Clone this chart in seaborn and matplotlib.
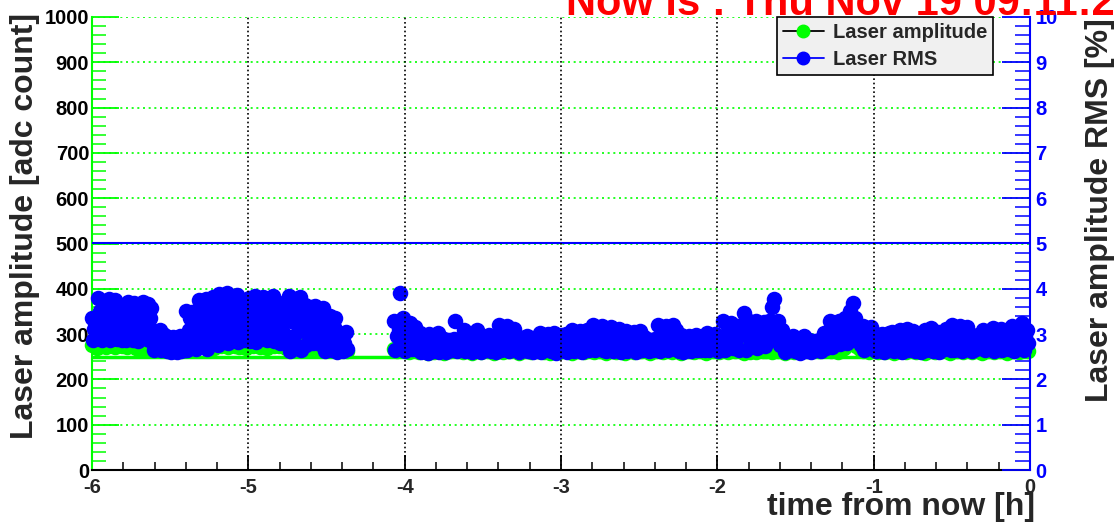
import numpy as np
import pandas as pd
import seaborn as sns
import matplotlib.pyplot as plt
from matplotlib.lines import Line2D
from matplotlib.ticker import MultipleLocator

# two monitoring runs, hours before "now"
run_a = (-6.00, -4.37)
run_b = (-4.07, -0.01)

# laser RMS [%], run a
rms_a = [3.35, 2.88, 3.12, 3.30, 2.92,
         3.80, 3.08, 3.52, 2.88, 3.30, 3.72, 2.95, 3.45, 3.18, 3.78, 2.87, 3.60, 3.25, 3.02, 3.76,
         3.42, 2.90, 3.18, 3.38, 3.02, 2.88,
         3.62, 3.10, 2.86, 3.40, 3.70, 2.95, 3.25, 3.55, 2.88, 3.68, 3.15, 3.45,
         2.85, 3.60, 3.30, 3.05, 3.70, 2.92, 3.48, 3.20, 3.66, 2.87, 3.35, 3.58,
         3.10, 2.66, 2.88, 3.04, 2.72, 2.95, 3.08, 2.65, 2.82, 3.00, 2.70,
         2.96, 2.62, 2.80, 2.92, 2.60, 2.75, 2.94, 2.66, 2.85, 2.60, 2.90, 2.70, 2.96, 2.62, 2.82, 2.92, 2.64,
         3.50, 2.66, 3.10, 3.35, 2.80, 3.48, 2.95, 3.22, 2.68, 3.40, 3.00,
         3.75, 2.82, 3.30, 3.55, 3.05, 3.78, 2.68, 3.45, 3.15, 3.66, 2.90, 3.82, 3.35, 3.00,
         3.60, 2.75, 3.88, 3.20, 3.50, 2.85, 3.70, 3.10, 3.40, 3.90, 2.80, 3.58, 3.25, 3.80,
         2.95, 3.48, 3.12, 3.86, 2.82, 3.62, 3.30, 3.00, 3.75, 3.42, 2.88, 3.68, 3.18,
         3.80, 2.85, 3.35, 3.62, 3.08, 3.84, 2.82, 3.50, 3.20, 3.72, 2.95, 3.40, 3.82,
         3.10, 3.58, 2.88, 3.30, 3.76, 3.00, 3.48, 3.84, 2.84, 3.25, 3.66, 3.05,
         3.68, 2.80, 3.25, 3.50, 3.00, 3.62, 2.88, 3.40,
         3.84, 2.62, 3.30, 3.60, 2.95, 3.78, 2.70, 3.45, 3.12, 3.82, 2.66, 3.55, 3.20,
         3.64, 2.76, 3.20, 3.45, 2.95, 3.60, 3.08, 2.80, 3.35, 3.62, 2.90, 3.50, 3.15, 2.78, 3.40, 3.58,
         3.45, 2.62, 3.00, 3.28, 2.78, 3.40, 2.90, 2.65, 3.15, 3.35,
         3.07, 2.60, 2.85, 3.00, 2.70, 2.95, 2.62, 2.80, 3.05, 2.68]

# laser RMS [%], run b
rms_b = [3.30, 2.64, 2.95, 3.12, 3.90, 2.75, 3.35, 2.62, 3.05, 2.85, 3.25, 2.68, 2.95, 3.15, 2.78, 2.64,
         3.02, 2.60, 2.80, 2.92, 2.70, 2.58, 3.00, 2.85, 2.62, 2.95, 2.74, 3.02, 2.60, 2.88, 2.68,
         2.90, 2.60, 2.76, 2.86, 2.64, 2.72, 2.90, 3.28, 2.62, 2.82, 2.68, 2.88,
         3.08, 2.62, 2.86, 2.72, 3.00, 2.60, 2.94, 2.78, 3.08, 2.66,
         2.96, 2.60, 2.78, 2.90, 2.66, 2.84, 2.98, 2.62, 2.74, 2.92, 2.60, 2.86,
         3.20, 2.64, 2.90, 3.05, 2.75, 3.18, 2.62, 2.98, 2.82, 3.12, 2.68,
         2.95, 2.60, 2.78, 2.90, 2.66, 2.84, 2.96, 2.62, 2.74, 2.92, 2.60, 2.86, 2.70, 2.94,
         3.02, 2.60, 2.82, 2.94, 2.68, 3.00, 2.76, 2.62, 2.90, 3.02,
         2.58, 2.84, 2.72, 2.98, 2.64, 2.88, 3.00, 2.60, 2.80, 2.94,
         3.08, 2.62, 2.86, 3.00, 2.72, 3.06, 2.60, 2.92, 2.78, 3.08, 2.66, 2.96, 2.82,
         3.20, 2.64, 2.92, 3.06, 2.76, 3.18, 2.66,
         2.86, 2.62, 2.76, 2.84,
         3.15, 2.62, 2.90, 3.02, 2.74, 3.12, 2.60, 2.96, 2.82,
         3.06, 2.62, 2.84, 2.96, 2.70, 3.05, 2.60, 2.90, 2.76, 3.06, 2.64, 2.94, 2.80,
         2.90, 2.62, 2.76, 2.86, 2.66, 2.90, 2.72,
         3.20, 2.62, 2.92, 3.06, 2.74, 3.18, 2.64, 2.98, 2.82, 3.20, 2.68, 3.08, 2.88, 2.62,
         2.98, 2.60, 2.80, 2.92, 2.68, 2.96, 2.62, 2.86, 2.74, 2.98, 2.64,
         2.86, 2.64, 2.76, 2.84, 2.66,
         3.02, 2.66, 2.84, 2.96, 2.72, 3.00,
         2.90, 2.62, 2.76, 2.88,
         3.28, 2.64, 2.95, 3.15, 2.78, 3.25, 2.70, 3.05, 2.88, 3.18, 2.66, 3.00, 3.15,
         3.46, 2.66, 3.10, 3.28, 2.82, 2.96, 3.20,
         3.28, 2.70, 3.00, 3.15, 2.82, 3.26, 2.74, 3.05,
         3.30, 2.90, 3.60, 3.78, 3.15, 2.98, 3.30, 2.76, 3.10,
         2.96, 2.60, 2.80, 2.92, 2.66, 2.86, 2.96, 2.62, 2.74, 2.90, 2.58, 2.84, 2.70, 2.95, 2.62, 2.88,
         2.86, 2.60, 2.74, 2.84, 2.64, 2.80, 2.86, 2.62, 2.72,
         3.02, 2.70, 2.88, 2.96,
         3.30, 2.72, 3.00, 3.15, 2.85, 3.28, 2.78, 3.08, 2.92,
         3.35, 2.80, 3.10, 3.50, 2.95, 3.68, 3.35, 3.20, 2.85, 3.05, 2.75,
         3.18, 2.64, 2.90, 3.05, 2.76, 3.15, 2.68,
         3.02, 2.62, 2.82, 2.94, 2.70, 3.00, 2.60, 2.88, 2.76, 3.02, 2.64,
         3.05, 2.62, 2.84, 2.96, 2.70, 3.10, 2.60, 2.90, 2.78, 3.12, 2.64, 2.98,
         2.82, 3.06, 2.62, 2.88, 2.72, 3.00, 2.60, 2.84, 3.08, 2.66, 2.94, 2.78,
         3.14, 2.62, 2.90, 2.74, 3.04, 2.60, 2.86, 2.98, 2.68, 3.12, 2.80, 2.92, 2.64,
         3.20, 2.64, 2.92, 3.06, 2.76, 3.18, 2.62, 2.98, 2.84, 3.15, 2.70,
         3.00, 2.62, 2.80, 2.92, 2.68, 2.98, 2.74, 2.86,
         3.10, 2.64, 2.86, 2.98, 2.72, 3.08,
         3.13, 2.62, 2.88, 3.02, 2.72, 3.12, 2.64, 2.94, 2.80, 3.10, 2.68, 2.96,
         3.18, 2.62, 2.92, 3.06, 2.76, 3.16,
         3.24, 2.66, 2.95, 3.10, 2.80]

# laser amplitude [adc count]
amp_a = [276, 283, 270, 288, 274, 280, 272, 286, 277, 282,
         271, 284, 278, 274, 287, 272, 281, 275, 289, 270,
         268, 274, 266, 272, 269, 264, 270, 266, 273, 268,
         265, 271, 267, 274, 268, 263, 270, 266, 272, 269,
         274, 280, 270, 277, 283, 271, 279, 274, 286, 272,
         278, 282, 270, 276, 284, 273, 279, 288, 272, 277,
         281, 274, 285, 271, 278, 283, 270, 276, 282, 273,
         279, 286, 272, 277, 284, 270, 278, 282, 274, 280,
         273, 281, 276, 270, 284, 277, 272, 279, 275, 282,
         271, 278, 274, 268, 280, 273, 269, 277, 266, 272,
         268, 264, 270, 266, 272, 263, 269, 265, 268, 262]

amp_b = [268, 262, 274, 265, 270, 260, 272, 266, 261, 269, 264, 259,
         266, 260, 271, 263, 258, 268, 262, 275, 264, 270, 261, 267,
         263, 259, 269, 265, 260, 272, 262, 266, 258, 270, 264, 261,
         268, 262, 273, 265, 259, 267, 263, 270, 260, 265, 262, 268,
         261, 266, 259, 271, 264, 260, 268, 262, 265, 259, 270, 263,
         266, 260, 272, 264, 261, 268, 262, 266, 259, 270, 263, 261,
         267, 262, 258, 269, 264, 260, 266, 262, 271, 263, 259, 268,
         262, 266, 260, 272, 264, 261, 267, 263, 259, 270, 262, 265,
         260, 268, 263, 266, 259, 271, 262, 265, 260, 268, 264, 261,
         266, 262, 270, 263, 259, 267, 261, 265, 260, 269, 263, 262,
         264, 260, 268, 262, 266, 259, 270, 263, 261, 267, 262, 265,
         268, 264, 272, 266, 262, 270, 264, 268, 262, 266, 260, 264,
         270, 278, 285, 280, 274, 268, 262, 266, 260, 268, 263, 261,
         266, 260, 270, 263, 259, 268, 262, 266, 260, 271, 263, 261,
         267, 262, 259, 269, 264, 260, 266, 262, 270, 263, 259, 268,
         262, 266, 260, 271, 264, 261, 267, 263, 259, 270, 262, 265,
         260, 268, 263, 266, 259, 271, 262, 265, 260, 268, 264, 262]

amp_threshold = 250   # adc count
rms_threshold = 5     # %

now_text = "Now is : Thu Nov 19 09:11:27 2009"

GREEN = '#00ff00'
BLUE = '#0000ff'
RED = '#ff0000'


def run_frame(run, values, name):
    return pd.DataFrame({'time': np.linspace(run[0], run[1], len(values)),
                         name: values})


amp_df = pd.concat([run_frame(run_a, amp_a, 'amp'), run_frame(run_b, amp_b, 'amp')],
                   ignore_index=True)
rms_df = pd.concat([run_frame(run_a, rms_a, 'rms'), run_frame(run_b, rms_b, 'rms')],
                   ignore_index=True)

sns.set_style("ticks")
plt.rcParams['font.family'] = ['Liberation Sans', 'DejaVu Sans']
plt.rcParams['font.weight'] = 'bold'
plt.rcParams['axes.unicode_minus'] = False

W, H = 1117, 528
fig = plt.figure(figsize=(W / 100, H / 100), dpi=100)
ax = fig.add_axes([92 / W, 58 / H, 938 / W, 453 / H])
ax.set_xlim(-6, 0)
ax.set_ylim(0, 1000)
ax2 = ax.twinx()
ax2.set_ylim(0, 10)

# amplitude (left scale)
ax.grid(axis='y', which='major', color=GREEN, linestyle=(0, (1.2, 2.2)), lw=1.2)
ax.axhline(amp_threshold, color=GREEN, lw=2.5, zorder=2)
sns.scatterplot(data=amp_df, x='time', y='amp', ax=ax, color=GREEN, s=125,
                linewidth=0, legend=False, zorder=3)
ax.collections[-1].set_clip_on(False)

# RMS (right scale)
ax2.axhline(rms_threshold, color=BLUE, lw=1.5, zorder=2)
sns.scatterplot(data=rms_df, x='time', y='rms', ax=ax2, color=BLUE, s=125,
                linewidth=0, legend=False, zorder=3)
ax2.collections[-1].set_clip_on(False)
for h in [-5, -4, -3, -2, -1]:
    ax2.axvline(h, color='black', linestyle=(0, (1, 1.6)), lw=1.2, zorder=4)

for a in (ax, ax2):
    a.set_xlabel('')
    a.set_ylabel('')

# axes styling, ROOT like
for s in ['top', 'right']:
    ax.spines[s].set_visible(False)
for s in ['top', 'left', 'bottom']:
    ax2.spines[s].set_visible(False)
ax.spines['left'].set_color(GREEN)
ax.spines['left'].set_linewidth(1.5)
ax.spines['bottom'].set_color('black')
ax.spines['bottom'].set_linewidth(1.5)
ax2.spines['right'].set_color(BLUE)
ax2.spines['right'].set_linewidth(1.5)

ax.xaxis.set_major_locator(MultipleLocator(1))
ax.xaxis.set_minor_locator(MultipleLocator(0.2))
ax.yaxis.set_major_locator(MultipleLocator(100))
ax.yaxis.set_minor_locator(MultipleLocator(20))
ax2.yaxis.set_major_locator(MultipleLocator(1))
ax2.yaxis.set_minor_locator(MultipleLocator(0.2))

ax.tick_params(axis='x', which='major', direction='in', length=11, width=1.3,
               color='black', labelsize=14.5, pad=6)
ax.tick_params(axis='x', which='minor', direction='in', length=5.5, width=1.1, color='black')
ax.tick_params(axis='y', which='major', direction='in', length=19.5, width=1.3,
               color=GREEN, labelcolor='black', labelsize=14.5, pad=2)
ax.tick_params(axis='y', which='minor', direction='in', length=10, width=1.1, color=GREEN)
ax2.tick_params(axis='y', which='major', direction='in', length=20, width=1.3,
                color=BLUE, labelcolor=BLUE, labelsize=14.5, pad=4)
ax2.tick_params(axis='y', which='minor', direction='in', length=10.5, width=1.1, color=BLUE)
for lab in ax.get_xticklabels() + ax.get_yticklabels() + ax2.get_yticklabels():
    lab.set_fontweight('bold')

# legend
handles = [Line2D([], [], color='black', lw=1.3, marker='o', ms=9,
                  mfc=GREEN, mec=GREEN),
           Line2D([], [], color=BLUE, lw=1.3, marker='o', ms=9,
                  mfc=BLUE, mec=BLUE)]
leg = ax2.legend(handles, ['Laser amplitude', 'Laser RMS'], loc='upper right',
                 bbox_to_anchor=((993 - 92) / 938, 1.0), borderaxespad=0,
                 fancybox=False, framealpha=1, facecolor='#f0f0f0', edgecolor='black',
                 prop={'size': 14.5, 'weight': 'bold'}, handlelength=2.0,
                 handletextpad=0.45, borderpad=0.3, labelspacing=0.4)
leg.get_frame().set_linewidth(1.2)
leg.set_zorder(10)

# titles
fig.text(25 / W, 1 - 13 / H, 'Laser amplitude [adc count]', rotation=90,
         ha='center', va='top', fontsize=23, fontweight='bold')
fig.text(1100 / W, 1 - 18 / H, 'Laser amplitude RMS [%]', rotation=90,
         ha='center', va='top', fontsize=23, fontweight='bold')
fig.text(1035 / W, 13 / H, 'time from now [h]', ha='right', va='baseline',
         fontsize=23, fontweight='bold')
fig.text(566 / W, 1 - 15 / H, now_text, ha='left', va='baseline',
         fontsize=30, fontweight='bold', color=RED)

fig.savefig('out.png', dpi=100)
